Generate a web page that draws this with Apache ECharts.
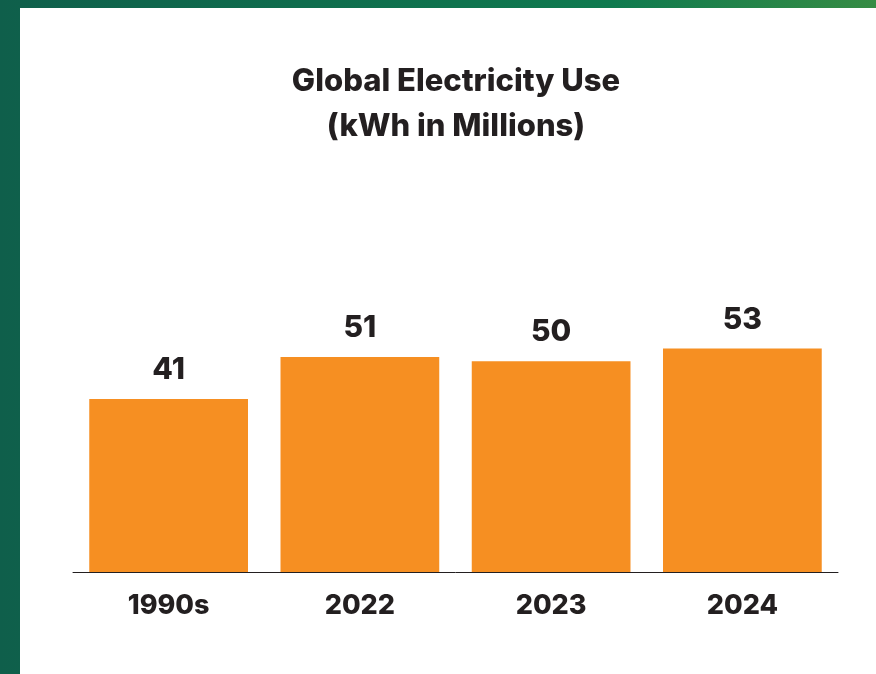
<!DOCTYPE html>
<html>
<head>
<meta charset="utf-8">
<script src="https://cdn.jsdelivr.net/npm/echarts@6/dist/echarts.min.js"></script>
<style>
  html, body { margin:0; padding:0; width:876px; height:674px; overflow:hidden; }
  body { background: linear-gradient(90deg, #0f5f4b 0%, #0f7a4f 70%, #368c44 100%); position:relative; }
  #panel { position:absolute; left:20px; top:8px; right:0; bottom:0; background:#ffffff; }
  #chart { position:absolute; left:0; top:0; width:876px; height:674px; }
</style>
</head>
<body>
<div id="panel"></div>
<div id="chart"></div>
<script>
const categories = ['1990s', '2022', '2023', '2024'];
const values = [41, 51, 50, 53];
const titleLines = ['Global Electricity Use', '(kWh in Millions)'];

const chart = echarts.init(document.getElementById('chart'), null, { renderer: 'canvas' });
const textColor = '#231f20';
const fontFam = 'Inter, "Open Sans", Lato, sans-serif';

chart.setOption({
  backgroundColor: 'transparent',
  animation: false,
  title: {
    text: titleLines.join('\n'),
    left: 451,
    top: 54,
    textAlign: 'center',
    textStyle: {
      color: textColor, fontFamily: fontFam, fontWeight: 800,
      fontSize: 31, lineHeight: 45
    }
  },
  grid: { left: 73, right: 38, top: 319, bottom: 102 },
  xAxis: {
    type: 'category',
    data: categories,
    axisLine: { show: true, lineStyle: { color: textColor, width: 1 } },
    axisTick: { show: false },
    axisLabel: {
      color: textColor, fontFamily: fontFam, fontWeight: 800,
      fontSize: 27, margin: 20
    }
  },
  yAxis: {
    type: 'value', min: 0, max: 60,
    show: false,
    splitLine: { show: false }
  },
  series: [{
    type: 'bar',
    data: values,
    barWidth: '83%',
    itemStyle: { color: '#f68f22' },
    label: {
      show: true, position: 'top', distance: 14,
      color: textColor, fontFamily: fontFam, fontWeight: 800, fontSize: 30
    }
  }]
});
</script>
</body>
</html>
